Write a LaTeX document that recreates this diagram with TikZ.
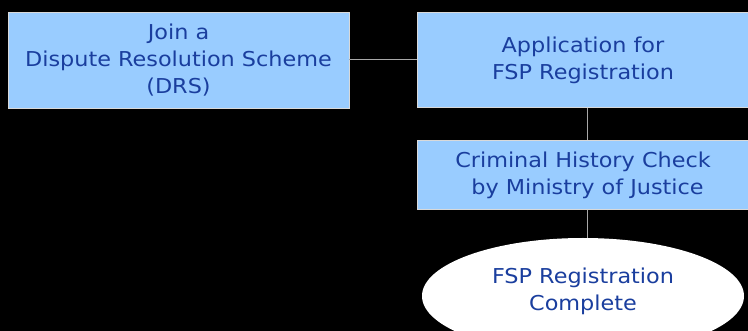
\documentclass[tikz,border=0pt]{standalone}
\usepackage{fontspec}
\setmainfont[FakeStretch=1.09]{DejaVu Sans}
\usetikzlibrary{shapes.geometric}

\definecolor{boxfill}{HTML}{99CCFF}
\definecolor{boxtext}{HTML}{1A3E9E}
\definecolor{linkgray}{HTML}{A8A8A8}

\tikzset{
  stepbox/.style={draw=white!85!black, line width=0.9pt, fill=boxfill, shape=rectangle,
    align=center, text=boxtext, inner sep=0pt},
  link/.style={draw=linkgray, line width=1pt}
}

\begin{document}
\begin{tikzpicture}[x=1pt, y=-1pt, every node/.style={font=\fontsize{20.5}{27}\selectfont}]

        % Background
        \fill[black] (0,0) rectangle (748,331);
        \useasboundingbox (0,0) rectangle (748,331);
        \clip (0,0) rectangle (748,331);

        % Steps
        \node[stepbox, minimum width=341pt, minimum height=96pt] (drs) at (178.5,60)
          {Join a\\Dispute Resolution Scheme\\(DRS)};
        \node[stepbox, minimum width=332pt, minimum height=95pt] (apply) at (583,60)
          {Application for\\FSP Registration};
        \node[stepbox, minimum width=332pt, minimum height=69pt] (check) at (583,175)
          {Criminal History Check\\\hspace*{9pt}by Ministry of Justice};

        % End
        \node[draw=none, fill=white, shape=ellipse, minimum width=322pt, minimum height=116pt,
          inner sep=0pt] (done) at (583,296) {};
        \node[align=center, text=boxtext] (donetext) at (583,291) {FSP Registration\\Complete};

        % Links
        \draw[link] (drs.east) -- (apply.west);
        \draw[link] ([xshift=4pt]apply.south) -- ([xshift=4pt]check.north);
        \draw[link] ([xshift=4pt]check.south) -- ([xshift=4pt]check.south |- done.north);

\end{tikzpicture}
\end{document}
